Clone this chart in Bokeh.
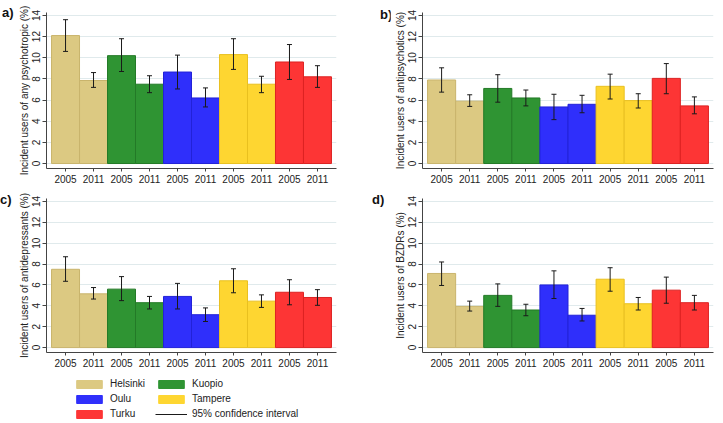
from bokeh.plotting import figure
from bokeh.models import (ColumnDataSource, Whisker, TeeHead, FixedTicker, Range1d,
                          Legend, LegendItem, Div)
from bokeh.layouts import column, row
from bokeh.embed import file_html
from bokeh.resources import INLINE

FONT = "Liberation Sans"

cities = ["Helsinki", "Kuopio", "Oulu", "Tampere", "Turku"]
years = ["2005", "2011"]
city_colors = ["#DCC982", "#2F9433", "#2F2FFB", "#FED631", "#FD3535"]
city_edges = ["#C9B46C", "#237A27", "#2222D8", "#E9C020", "#DD2222"]
y_ticks = [0, 2, 4, 6, 8, 10, 12, 14]

# values per bar: Helsinki 2005, Helsinki 2011, Kuopio 2005, ... Turku 2011
any_psy = [12.1, 7.85, 10.2, 7.5, 8.65, 6.2, 10.3, 7.5, 9.6, 8.2]
any_psy_lo = [10.6, 7.2, 8.7, 6.7, 7.05, 5.35, 8.9, 6.7, 7.95, 7.2]
any_psy_hi = [13.6, 8.6, 11.8, 8.3, 10.25, 7.15, 11.8, 8.25, 11.25, 9.25]

antipsy = [7.9, 5.9, 7.1, 6.2, 5.35, 5.6, 7.3, 5.95, 8.05, 5.45]
antipsy_lo = [6.75, 5.4, 5.8, 5.45, 4.15, 4.8, 6.1, 5.25, 6.6, 4.7]
antipsy_hi = [9.05, 6.5, 8.4, 6.95, 6.55, 6.45, 8.45, 6.6, 9.45, 6.3]

antidep = [7.5, 5.15, 5.6, 4.3, 4.9, 3.15, 6.4, 4.45, 5.3, 4.8]
antidep_lo = [6.35, 4.65, 4.5, 3.7, 3.7, 2.5, 5.25, 3.85, 4.1, 4.05]
antidep_hi = [8.7, 5.75, 6.8, 4.9, 6.15, 3.8, 7.55, 5.05, 6.5, 5.55]

bzdr = [7.1, 3.95, 5.0, 3.6, 6.0, 3.1, 6.55, 4.2, 5.5, 4.3]
bzdr_lo = [5.95, 3.5, 3.95, 3.05, 4.7, 2.55, 5.4, 3.6, 4.25, 3.6]
bzdr_hi = [8.2, 4.45, 6.1, 4.15, 7.35, 3.75, 7.65, 4.8, 6.75, 5.0]

ylabels = ["Incident users of any psychotropic (%)",
           "Incident users of antipsychotics (%)",
           "Incident users of antidepressants (%)",
           "Incident users of BZDRs (%)"]
panel_tags = ["a)", "b)", "c)", "d)"]
ci_label = "95% confidence interval"

bar_city = [c for c in cities for _ in years]
bar_year = [y for _ in cities for y in years]
bar_x = list(range(1, len(bar_city) + 1))
bar_fill = [city_colors[cities.index(c)] for c in bar_city]
bar_edge = [city_edges[cities.index(c)] for c in bar_city]


def tag_div(tag, width, height, pad_left, pad_top):
    return Div(text=tag, width=width, height=height, margin=0,
               styles={"font-family": FONT, "font-weight": "bold", "font-size": "13px",
                       "color": "#111111", "padding-left": f"{pad_left}px",
                       "padding-top": f"{pad_top}px", "white-space": "nowrap",
                       "box-sizing": "border-box", "line-height": "15px"})


def panel(vals, lo, hi, ylabel, width, height, bl, br, bt, bb):
    p = figure(width=width, height=height, output_backend="svg", toolbar_location=None,
               x_range=Range1d(0.32, 10.68), y_range=Range1d(-0.47, 14.28),
               min_border_left=bl, min_border_right=br, min_border_top=bt,
               min_border_bottom=bb)
    src = ColumnDataSource(dict(x=bar_x, top=vals, lo=lo, hi=hi, fill=bar_fill,
                                edge=bar_edge))
    p.vbar(x="x", top="top", bottom=0, width=1.0, source=src, fill_color="fill",
           line_color="edge", line_width=1)
    w = Whisker(base="x", upper="hi", lower="lo", source=src, line_color="#1a1a1a",
                line_width=1, level="annotation",
                upper_head=TeeHead(size=5, line_color="#1a1a1a", line_width=1),
                lower_head=TeeHead(size=5, line_color="#1a1a1a", line_width=1))
    p.add_layout(w)
    p.outline_line_color = None
    p.background_fill_color = "white"
    p.xgrid.visible = False
    p.ygrid.grid_line_color = "#E0EAEC"
    p.ygrid.ticker = FixedTicker(ticks=y_ticks)
    ya = p.yaxis[0]
    ya.ticker = FixedTicker(ticks=y_ticks)
    ya.major_label_orientation = "vertical"
    ya.axis_label = ylabel
    ya.axis_label_text_font = FONT
    ya.axis_label_text_font_style = "normal"
    ya.axis_label_text_font_size = "10px"
    ya.axis_label_text_color = "#222222"
    ya.axis_label_standoff = 0
    ya.major_label_text_font = FONT
    ya.major_label_text_font_size = "10px"
    ya.major_label_text_color = "#222222"
    ya.major_label_standoff = 2
    ya.major_tick_out = 4
    ya.major_tick_in = 0
    ya.minor_tick_out = 0
    ya.minor_tick_in = 0
    ya.axis_line_color = "#444444"
    ya.major_tick_line_color = "#444444"
    xa = p.xaxis[0]
    xa.ticker = FixedTicker(ticks=bar_x)
    xa.major_label_overrides = {x: y for x, y in zip(bar_x, bar_year)}
    xa.major_label_text_font = FONT
    xa.major_label_text_font_size = "10px"
    xa.major_label_text_color = "#222222"
    xa.major_label_standoff = 3
    xa.major_tick_out = 3
    xa.major_tick_in = 0
    xa.minor_tick_out = 0
    xa.axis_line_color = "#444444"
    xa.major_tick_line_color = "#444444"
    return p


pa = panel(any_psy, any_psy_lo, any_psy_hi, ylabels[0], 346, 188, 32, 24, 12, 20)
pb = panel(antipsy, antipsy_lo, antipsy_hi, ylabels[1], 333, 188, 32, 10, 12, 20)
pc = panel(antidep, antidep_lo, antidep_hi, ylabels[2], 346, 182, 32, 24, 10, 18)
pd = panel(bzdr, bzdr_lo, bzdr_hi, ylabels[3], 339, 182, 38, 10, 10, 18)

da = tag_div(panel_tags[0], 14, 188, 2, 5)
db = tag_div(panel_tags[1], 30, 188, 20, 7)
dc = tag_div(panel_tags[2], 14, 182, 0, 4)
dd = tag_div(panel_tags[3], 24, 182, 12, 4)

# legend strip
lg = figure(width=723, height=53, output_backend="svg", toolbar_location=None,
            x_range=Range1d(0, 1), y_range=Range1d(0, 1),
            min_border_left=0, min_border_right=0, min_border_top=0, min_border_bottom=0)
lg.axis.visible = False
lg.grid.visible = False
lg.outline_line_color = None
items = {}
for c, col, ed in zip(cities, city_colors, city_edges):
    r = lg.vbar(x=[-5], top=[-5], bottom=[-6], width=1, fill_color=col, line_color=col)
    items[c] = LegendItem(label=c, renderers=[r])
rci = lg.line(x=[-5, -4], y=[-5, -5], line_color="#1a1a1a", line_width=1)
items["ci"] = LegendItem(label=ci_label, renderers=[rci])
# column-major: left column Helsinki/Oulu/Turku, right column Kuopio/Tampere/CI
order = [items["Helsinki"], items["Oulu"], items["Turku"],
         items["Kuopio"], items["Tampere"], items["ci"]]
leg = Legend(items=order, ncols=2, location=(73, 4), glyph_width=32, glyph_height=10,
             label_height=10, label_width=41, label_standoff=5, spacing=4, padding=0,
             margin=0, border_line_color=None, background_fill_alpha=0,
             label_text_font=FONT, label_text_font_size="10px",
             label_text_color="#222222")
lg.add_layout(leg)

layout = column(row(da, pa, db, pb, spacing=0), row(dc, pc, dd, pd, spacing=0), lg,
                spacing=0)
open("out.html", "w").write(file_html(layout, INLINE))
